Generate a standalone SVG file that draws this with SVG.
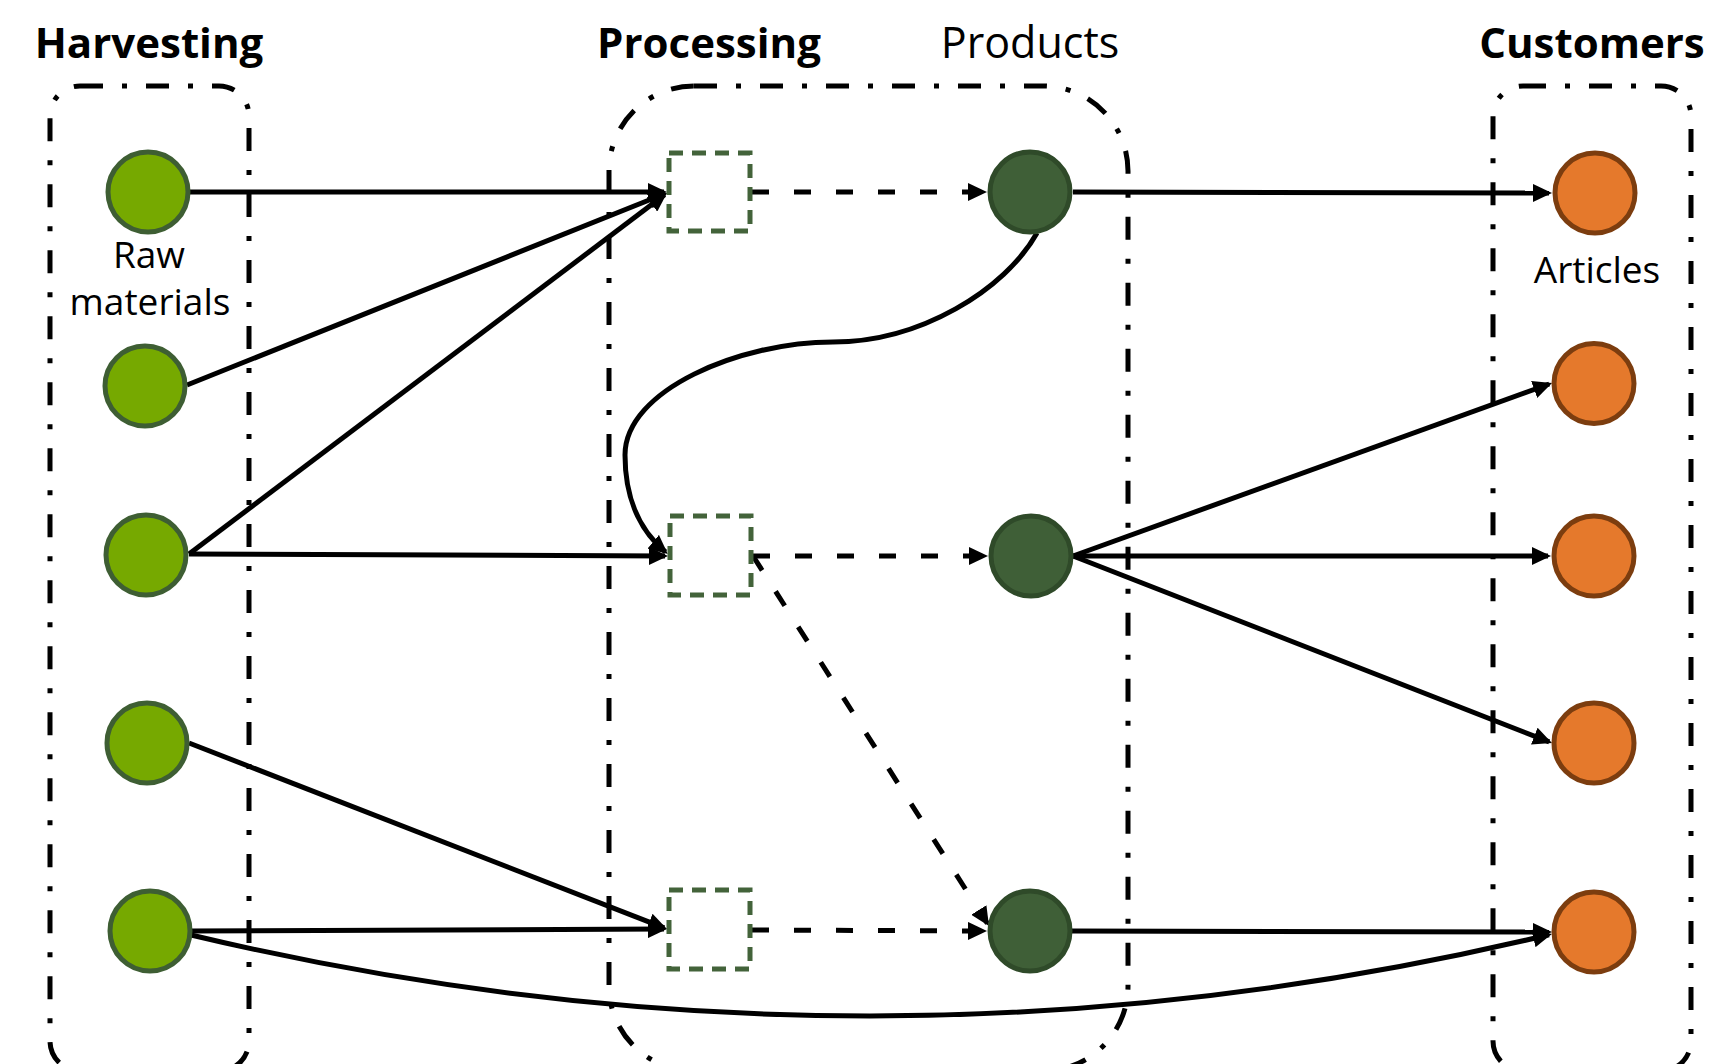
<svg xmlns="http://www.w3.org/2000/svg" width="1731" height="1064" viewBox="0 0 1731 1064">
<style>
.box{fill:none;stroke:#000;stroke-width:5;stroke-dasharray:23 19 5 19}
.raw{fill:#76a900;stroke:#3e5e33;stroke-width:5}
.prod{fill:#3f5f37;stroke:#2f4a29;stroke-width:5}
.art{fill:#e5792c;stroke:#7c3d0f;stroke-width:5}
.proc{fill:#fff;stroke:#43633a;stroke-width:5;stroke-dasharray:14 9}
.edge{fill:none;stroke:#000;stroke-width:5;marker-end:url(#arrow)}
.dash{stroke-dasharray:17 25}
.head{font-family:"Open Sans","Liberation Sans",sans-serif;font-weight:bold;font-size:42px;text-anchor:middle;fill:#000}
.lbl{font-family:"Open Sans","Liberation Sans",sans-serif;font-size:43px;text-anchor:middle;fill:#000}
.small{font-family:"Open Sans","Liberation Sans",sans-serif;font-size:37px;text-anchor:middle;fill:#000}
</style>
<defs>
<marker id="arrow" markerUnits="userSpaceOnUse" markerWidth="19" markerHeight="18" refX="16" refY="9" orient="auto" viewBox="0 0 19 18">
<path d="M0,0 L19,9 L0,18 Z" fill="#000"/>
</marker>
</defs>
<rect width="1731" height="1064" fill="#fff"/>

<g id="harvesting">
<rect class="box" x="50" y="86" width="199" height="985" rx="30"/>
<text class="head" x="149" y="58">Harvesting</text>
</g>
<g id="processing">
<rect class="box" x="609" y="86" width="519" height="985" rx="85"/>
<text class="head" x="709" y="58">Processing</text>
<text class="lbl" x="1030" y="58">Products</text>
</g>
<g id="customers">
<rect class="box" x="1493" y="86" width="198" height="985" rx="30"/>
<text class="head" x="1592" y="58">Customers</text>
</g>

<g id="connectors">
<path class="edge" d="M190,192 L664,192"/>
<path class="edge" d="M187,385 L664.2,194"/>
<path class="edge" d="M189,554 L664.6,194.8"/>
<path class="edge" d="M189,554 L665,556"/>
<path class="edge" d="M1037,233 C1005,290 920,342 833,342 C740,342 625,390 625,455 C625,505 645,535 665.5,552"/>
<path class="edge dash" d="M752,192 L984,192"/>
<path class="edge dash" d="M753,556 L985,556"/>
<path class="edge dash" d="M753,556 L987.4,923.5"/>
<path class="edge dash" d="M752,930 L984,931"/>
<path class="edge" d="M189,743 L664.2,927.9"/>
<path class="edge" d="M191,931 L664,929"/>
<path class="edge" d="M191,935 Q871,1097 1549,934.7"/>
<path class="edge" d="M1073,192 L1549,193"/>
<path class="edge" d="M1073,556 L1549.2,384"/>
<path class="edge" d="M1073,556 L1548,556"/>
<path class="edge" d="M1073,556 L1549.2,741.9"/>
<path class="edge" d="M1072,931 L1549,932"/>
</g>

<g id="raw1"><circle class="raw" cx="148" cy="192" r="40"/>
<text class="small" x="149" y="268">Raw</text>
<text class="small" x="150" y="315">materials</text></g>
<g id="raw2"><circle class="raw" cx="145" cy="386" r="40"/></g>
<g id="raw3"><circle class="raw" cx="146" cy="555" r="40"/></g>
<g id="raw4"><circle class="raw" cx="147" cy="743" r="40"/></g>
<g id="raw5"><circle class="raw" cx="150" cy="931" r="40"/></g>

<g id="proc1"><rect class="proc" x="669" y="153" width="81" height="78"/></g>
<g id="proc2"><rect class="proc" x="670" y="516" width="81" height="79"/></g>
<g id="proc3"><rect class="proc" x="669" y="890" width="81" height="79"/></g>

<g id="prod1"><circle class="prod" cx="1030" cy="192" r="40"/></g>
<g id="prod2"><circle class="prod" cx="1031" cy="556" r="40"/></g>
<g id="prod3"><circle class="prod" cx="1030" cy="931" r="40"/></g>

<g id="art1"><circle class="art" cx="1595" cy="193" r="40"/>
<text class="small" x="1597" y="283">Articles</text></g>
<g id="art2"><circle class="art" cx="1594" cy="383.5" r="40"/></g>
<g id="art3"><circle class="art" cx="1594" cy="556" r="40"/></g>
<g id="art4"><circle class="art" cx="1594" cy="743" r="40"/></g>
<g id="art5"><circle class="art" cx="1594" cy="932" r="40"/></g>
</svg>
